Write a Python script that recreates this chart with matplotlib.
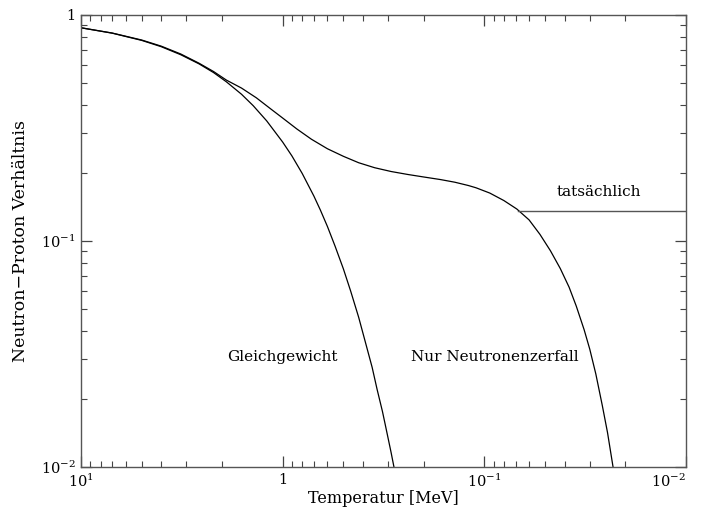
import numpy as np
import matplotlib
matplotlib.use('Agg')
from matplotlib import pyplot as plt
from matplotlib.ticker import LogLocator, NullFormatter, FixedLocator, FixedFormatter

plt.rcParams['font.family'] = ['DejaVu Serif']
plt.rcParams['mathtext.fontset'] = 'dejavuserif'

# equilibrium n/p ratio
T_eq = [10, 7, 5, 4, 3.2, 2.6, 2.2, 1.9, 1.6, 1.4, 1.2, 1.0, 0.9, 0.8, 0.7,
        0.65, 0.6, 0.55, 0.5, 0.46, 0.42, 0.39, 0.36, 0.34, 0.32, 0.31,
        0.3, 0.29, 0.28]
r_eq = [0.878, 0.831, 0.772, 0.724, 0.667, 0.608, 0.556, 0.506, 0.446,
        0.397, 0.340, 0.274, 0.238, 0.199, 0.158, 0.137, 0.116, 0.095,
        0.0753, 0.060, 0.046, 0.036, 0.0276, 0.022, 0.0176, 0.0154,
        0.0134, 0.0116, 0.0099]

# freeze-out followed by neutron decay only
T_dec = [10, 7, 5, 4, 3.2, 2.6, 2.2, 1.9, 1.6, 1.35, 1.15, 1.0, 0.85, 0.72,
         0.6, 0.5, 0.42, 0.35, 0.29, 0.24, 0.2, 0.165, 0.14, 0.12, 0.11,
         0.094, 0.08, 0.069, 0.06, 0.053, 0.047, 0.042, 0.038, 0.035,
         0.032, 0.03, 0.028, 0.026, 0.0245, 0.023]
r_dec = [0.878, 0.832, 0.775, 0.728, 0.672, 0.612, 0.562, 0.515, 0.475,
         0.43, 0.385, 0.35, 0.313, 0.282, 0.256, 0.237, 0.222, 0.211,
         0.203, 0.197, 0.192, 0.187, 0.182, 0.176, 0.172, 0.163, 0.151,
         0.1385, 0.124, 0.107, 0.0905, 0.0755, 0.0625, 0.0515, 0.0405,
         0.0332, 0.0258, 0.0187, 0.0142, 0.0100]

# actual value after nucleosynthesis
T_act = [0.068, 0.01]
r_act = [0.136, 0.136]

fig = plt.figure(figsize=(7.02, 5.07), dpi=100)
ax = fig.add_axes([81/702, 1-467/507, 605/702, 452/507])

ax.plot(T_eq, r_eq, color='black', lw=0.9)
ax.plot(T_dec, r_dec, color='black', lw=0.9)
ax.plot(T_act, r_act, color='#555555', lw=1.0)

ax.set_xscale('log')
ax.set_yscale('log')
ax.set_xlim(10, 0.01)
ax.set_ylim(0.01, 1)

ax.xaxis.set_major_locator(FixedLocator([10, 1, 0.1, 0.01]))
ax.xaxis.set_major_formatter(FixedFormatter([r'$10^{1}$', '1', r'$10^{-1}$', r'$10^{-2}$']))
ax.yaxis.set_major_locator(FixedLocator([0.01, 0.1, 1]))
ax.yaxis.set_major_formatter(FixedFormatter([r'$10^{-2}$', r'$10^{-1}$', '1']))
ax.xaxis.set_minor_locator(LogLocator(base=10, subs=np.arange(2, 10)))
ax.yaxis.set_minor_locator(LogLocator(base=10, subs=np.arange(2, 10)))
ax.xaxis.set_minor_formatter(NullFormatter())
ax.yaxis.set_minor_formatter(NullFormatter())

ax.tick_params(which='both', direction='in', top=True, right=True,
               labelsize=10.5, color='#444444')
ax.tick_params(which='major', length=8, width=0.9, pad=4)
ax.tick_params(which='minor', length=4, width=0.8)
for s in ax.spines.values():
    s.set_color('#555555')
    s.set_linewidth(1.0)
# keep the last x label inside the figure
ax.get_xticklabels()[-1].set_ha('right')

ax.set_xlabel('Temperatur [MeV]', fontsize=11.5, labelpad=0)
ax.set_ylabel('Neutron−Proton Verhältnis', fontsize=12.5, labelpad=8)

ax.text(1.0, 0.0307, 'Gleichgewicht', ha='center', va='center', fontsize=11)
ax.text(0.0886, 0.0307, 'Nur Neutronenzerfall', ha='center', va='center', fontsize=11)
ax.text(0.027, 0.165, 'tatsächlich', ha='center', va='center', fontsize=11)

fig.savefig('out.png', dpi=100)
